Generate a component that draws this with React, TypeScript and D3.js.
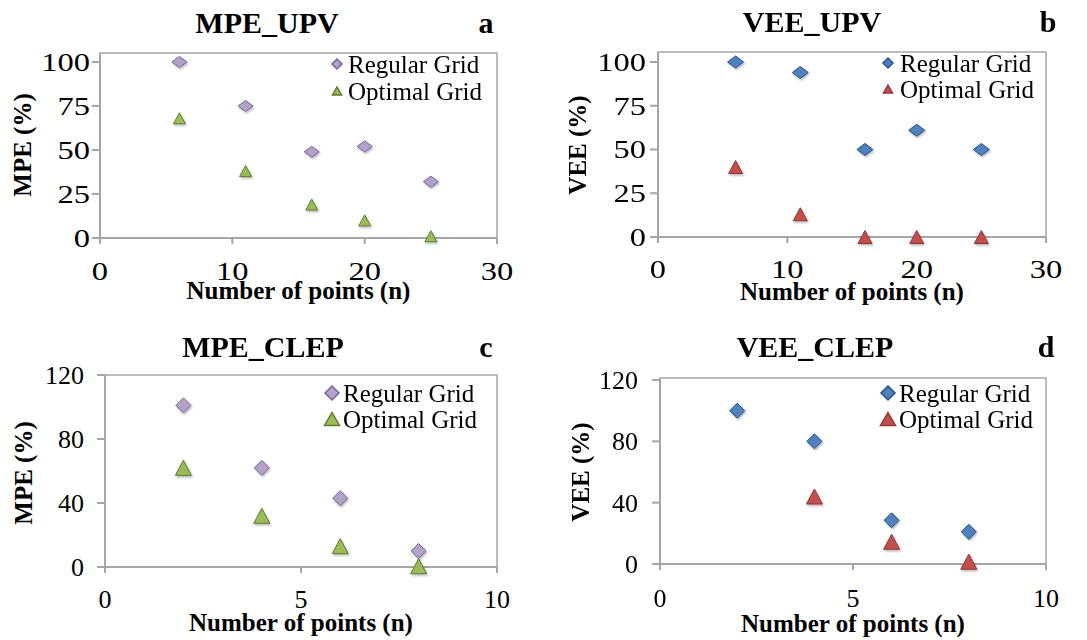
import React from "react";
import * as d3 from "d3";

// ---------- data ----------
const upvN = [6, 11, 16, 20, 25];
const mpeUpvRegular = [100, 75, 49, 52, 32];
const mpeUpvOptimal = [68, 38, 19, 10, 1];
const veeUpvRegular = [100, 94, 50, 61, 50];
const veeUpvOptimal = [40, 13, 0, 0, 0];

const clepN = [2, 4, 6, 8];
const mpeClepRegular = [101, 62, 43, 10];
const mpeClepOptimal = [62, 32, 13, 0.5];
const veeClepRegularN = [2, 4, 6, 8];
const veeClepRegular = [100, 80, 28.5, 21];
const veeClepOptimalN = [4, 6, 8];
const veeClepOptimal = [44, 14.5, 1.5];

const upvXTicks = [0, 10, 20, 30];
const upvYTicks = [0, 25, 50, 75, 100];
const clepXTicks = [0, 5, 10];
const clepYTicks = [0, 40, 80, 120];

const legendNames = ["Regular Grid", "Optimal Grid"];
const xTitle = "Number of points (n)";

type Series = { xs: number[]; ys: number[] };
type Style = { fill: string; stroke: string };

const purple: Style = { fill: "#b3a2c7", stroke: "#7a64a0" };
const green: Style = { fill: "#9bbb59", stroke: "#5f7a2c" };
const blue: Style = { fill: "#4f81bd", stroke: "#26528a" };
const red: Style = { fill: "#c0504d", stroke: "#943634" };

const FONT = '"Liberation Serif", "Times New Roman", serif';

function diamond(w: number, h: number) {
  return `M0,${-h / 2}L${w / 2},0L0,${h / 2}L${-w / 2},0Z`;
}
function triangle(w: number, h: number) {
  return `M0,${-h / 2}L${w / 2},${h / 2}L${-w / 2},${h / 2}Z`;
}

type PanelCfg = {
  title: string;
  titleX: number;
  titleY: number;
  letter: string;
  letterX: number;
  yLabel: string;
  yLabelX: number;
  yLabelY: number;
  left: number;
  right: number;
  top: number;
  bottom: number;
  yTopPx: number;
  xDomain: [number, number];
  yDomain: [number, number];
  xTicks: number[];
  yTicks: number[];
  tickFs: number;
  tickSx: number;
  xTickBaseline: number;
  xTitleBaseline: number;
  yTickEnd: number;
  reg: Series;
  opt: Series;
  regStyle: Style;
  optStyle: Style;
  diamondSize: [number, number];
  triSize: [number, number];
  legendX: number;
  legendTextX: number;
  legendY1: number;
  legendY2: number;
  legendDiamond: [number, number];
  legendTri: [number, number];
};

const txt = (size: number, bold = false): React.CSSProperties => ({
  fontFamily: FONT,
  fontSize: size,
  fontWeight: bold ? "bold" : "normal",
});

const Panel: React.FC<{ cfg: PanelCfg; id: string }> = ({ cfg, id }) => {
  const x = d3.scaleLinear().domain(cfg.xDomain).range([cfg.left, cfg.right]);
  const y = d3.scaleLinear().domain(cfg.yDomain).range([cfg.bottom, cfg.yTopPx]);
  const axisColor = "#a6a6a6";
  return (
    <g>
      <text x={cfg.titleX} y={cfg.titleY} textAnchor="middle" style={txt(30, true)}>
        {cfg.title}
      </text>
      <text x={cfg.letterX} y={cfg.titleY} textAnchor="middle" style={txt(30, true)}>
        {cfg.letter}
      </text>
      <rect
        x={cfg.left}
        y={cfg.top}
        width={cfg.right - cfg.left}
        height={cfg.bottom - cfg.top}
        fill="none"
        stroke={axisColor}
        strokeWidth={1.5}
      />
      <line x1={cfg.left} x2={cfg.left} y1={cfg.top} y2={cfg.bottom} stroke={axisColor} strokeWidth={2} />
      <line x1={cfg.left} x2={cfg.right} y1={cfg.bottom} y2={cfg.bottom} stroke={axisColor} strokeWidth={2} />
      {cfg.yTicks.map((t) => (
        <g key={"yt" + t}>
          <line x1={cfg.left - 8} x2={cfg.left} y1={y(t)} y2={y(t)} stroke={axisColor} strokeWidth={2} />
          <text
            transform={`translate(${cfg.yTickEnd},${y(t)}) scale(${cfg.tickSx},1)`}
            dy="0.35em"
            textAnchor="end"
            style={txt(cfg.tickFs)}
          >
            {t}
          </text>
        </g>
      ))}
      {cfg.xTicks.map((t) => (
        <g key={"xt" + t}>
          <line x1={x(t)} x2={x(t)} y1={cfg.bottom} y2={cfg.bottom + 6} stroke={axisColor} strokeWidth={2} />
          <text
            transform={`translate(${x(t)},${cfg.xTickBaseline}) scale(${cfg.tickSx},1)`}
            textAnchor="middle"
            style={txt(cfg.tickFs)}
          >
            {t}
          </text>
        </g>
      ))}
      <text x={(cfg.left + cfg.right) / 2} y={cfg.xTitleBaseline} textAnchor="middle" style={txt(25, true)}>
        {xTitle}
      </text>
      <text
        transform={`translate(${cfg.yLabelX},${cfg.yLabelY}) rotate(-90)`}
        dy="0.35em"
        textAnchor="middle"
        style={txt(25, true)}
      >
        {cfg.yLabel}
      </text>
      <g filter={`url(#sh${id})`}>
        {cfg.reg.xs.map((xv, i) => (
          <path
            key={"r" + i}
            d={diamond(cfg.diamondSize[0], cfg.diamondSize[1])}
            transform={`translate(${x(xv)},${y(cfg.reg.ys[i])})`}
            fill={cfg.regStyle.fill}
            stroke={cfg.regStyle.stroke}
            strokeWidth={1}
          />
        ))}
        {cfg.opt.xs.map((xv, i) => (
          <path
            key={"o" + i}
            d={triangle(cfg.triSize[0], cfg.triSize[1])}
            transform={`translate(${x(xv)},${y(cfg.opt.ys[i])})`}
            fill={cfg.optStyle.fill}
            stroke={cfg.optStyle.stroke}
            strokeWidth={1}
          />
        ))}
      </g>
      <path
        d={diamond(cfg.legendDiamond[0], cfg.legendDiamond[1])}
        transform={`translate(${cfg.legendX},${cfg.legendY1 - 9})`}
        fill={cfg.regStyle.fill}
        stroke={cfg.regStyle.stroke}
        strokeWidth={1.5}
      />
      <path
        d={triangle(cfg.legendTri[0], cfg.legendTri[1])}
        transform={`translate(${cfg.legendX},${cfg.legendY2 - 9})`}
        fill={cfg.optStyle.fill}
        stroke={cfg.optStyle.stroke}
        strokeWidth={1.5}
      />
      <text x={cfg.legendTextX} y={cfg.legendY1} style={txt(25)}>
        {legendNames[0]}
      </text>
      <text x={cfg.legendTextX} y={cfg.legendY2} style={txt(25)}>
        {legendNames[1]}
      </text>
    </g>
  );
};

const panels: PanelCfg[] = [
  {
    title: "MPE_UPV",
    titleX: 267,
    titleY: 33,
    letter: "a",
    letterX: 486,
    yLabel: "MPE (%)",
    yLabelX: 22,
    yLabelY: 145,
    left: 100,
    right: 497,
    top: 53,
    bottom: 238,
    yTopPx: 62,
    xDomain: [0, 30],
    yDomain: [0, 100],
    xTicks: upvXTicks,
    yTicks: upvYTicks,
    tickFs: 25,
    tickSx: 1.3,
    xTickBaseline: 280,
    xTitleBaseline: 299,
    yTickEnd: 90,
    reg: { xs: upvN, ys: mpeUpvRegular },
    opt: { xs: upvN, ys: mpeUpvOptimal },
    regStyle: purple,
    optStyle: green,
    diamondSize: [15, 11],
    triSize: [12, 11],
    legendX: 337,
    legendTextX: 348,
    legendY1: 73,
    legendY2: 100,
    legendDiamond: [10, 10],
    legendTri: [9, 8],
  },
  {
    title: "VEE_UPV",
    titleX: 812,
    titleY: 32,
    letter: "b",
    letterX: 1048,
    yLabel: "VEE (%)",
    yLabelX: 577,
    yLabelY: 145,
    left: 658,
    right: 1046,
    top: 52,
    bottom: 237,
    yTopPx: 62,
    xDomain: [0, 30],
    yDomain: [0, 100],
    xTicks: upvXTicks,
    yTicks: upvYTicks,
    tickFs: 25,
    tickSx: 1.3,
    xTickBaseline: 278,
    xTitleBaseline: 300,
    yTickEnd: 646,
    reg: { xs: upvN, ys: veeUpvRegular },
    opt: { xs: upvN, ys: veeUpvOptimal },
    regStyle: blue,
    optStyle: red,
    diamondSize: [16, 12],
    triSize: [14, 13],
    legendX: 888,
    legendTextX: 900,
    legendY1: 72,
    legendY2: 98,
    legendDiamond: [10, 10],
    legendTri: [9, 8],
  },
  {
    title: "MPE_CLEP",
    titleX: 263,
    titleY: 357,
    letter: "c",
    letterX: 486,
    yLabel: "MPE (%)",
    yLabelX: 23,
    yLabelY: 473,
    left: 105,
    right: 497,
    top: 375,
    bottom: 567,
    yTopPx: 375,
    xDomain: [0, 10],
    yDomain: [0, 120],
    xTicks: clepXTicks,
    yTicks: clepYTicks,
    tickFs: 26,
    tickSx: 1,
    xTickBaseline: 608,
    xTitleBaseline: 631,
    yTickEnd: 84,
    reg: { xs: clepN, ys: mpeClepRegular },
    opt: { xs: clepN, ys: mpeClepOptimal },
    regStyle: purple,
    optStyle: green,
    diamondSize: [15, 15],
    triSize: [16, 15],
    legendX: 332,
    legendTextX: 343,
    legendY1: 402,
    legendY2: 428,
    legendDiamond: [14, 14],
    legendTri: [15, 13],
  },
  {
    title: "VEE_CLEP",
    titleX: 815,
    titleY: 357,
    letter: "d",
    letterX: 1046,
    yLabel: "VEE (%)",
    yLabelX: 580,
    yLabelY: 472,
    left: 660,
    right: 1046,
    top: 378,
    bottom: 564,
    yTopPx: 380,
    xDomain: [0, 10],
    yDomain: [0, 120],
    xTicks: clepXTicks,
    yTicks: clepYTicks,
    tickFs: 26,
    tickSx: 1,
    xTickBaseline: 607,
    xTitleBaseline: 632,
    yTickEnd: 638,
    reg: { xs: veeClepRegularN, ys: veeClepRegular },
    opt: { xs: veeClepOptimalN, ys: veeClepOptimal },
    regStyle: blue,
    optStyle: red,
    diamondSize: [15, 15],
    triSize: [16, 15],
    legendX: 888,
    legendTextX: 899,
    legendY1: 402,
    legendY2: 428,
    legendDiamond: [14, 14],
    legendTri: [15, 13],
  },
];

export default function App() {
  return (
    <svg width={1087} height={640} style={{ position: "absolute", left: 0, top: 0, background: "#fff" }}>
      <defs>
        {panels.map((_, i) => (
          <filter key={i} id={`sh${i}`} x="-50%" y="-50%" width="200%" height="200%">
            <feDropShadow dx={1} dy={1.5} stdDeviation={1.3} floodColor="#000" floodOpacity={0.3} />
          </filter>
        ))}
      </defs>
      <rect width={1087} height={640} fill="#fff" />
      {panels.map((p, i) => (
        <Panel key={i} cfg={p} id={String(i)} />
      ))}
    </svg>
  );
}
